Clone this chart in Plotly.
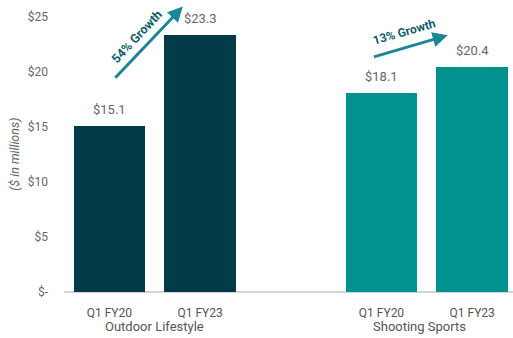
import plotly.graph_objects as go

# Data
segments = ["Outdoor Lifestyle", "Shooting Sports"]
periods = ["Q1 FY20", "Q1 FY23"]
outdoor_values = [15.1, 23.3]
shooting_values = [18.1, 20.4]
growth_labels = ["54% Growth", "13% Growth"]
y_tickvals = [0, 5, 10, 15, 20, 25]
y_ticktext = ["$-", "$5", "$10", "$15", "$20", "$25"]
y_title = "($ in millions)"

FONT = "Roboto, sans-serif"
DARK = "#033c48"
TEAL = "#01928f"
ARROW = "#1a8796"
GROWTH_TXT = "#0d5e6c"

x_out = [0, 1]
x_sho = [3, 4]

fig = go.Figure()
fig.add_trace(go.Bar(x=x_out, y=outdoor_values, marker_color=DARK, width=0.79,
                     marker_line_width=0, showlegend=False))
fig.add_trace(go.Bar(x=x_sho, y=shooting_values, marker_color=TEAL, width=0.79,
                     marker_line_width=0, showlegend=False))

annotations = []
for xs, vals in ((x_out, outdoor_values), (x_sho, shooting_values)):
    for x, v in zip(xs, vals):
        annotations.append(dict(x=x, y=v, text=f"${v:.1f}", showarrow=False,
                                yanchor="bottom", yshift=7,
                                font=dict(family=FONT, size=13, color="#666666")))

# growth arrows (derived from values)
annotations.append(dict(x=0.81, y=outdoor_values[1] + 2.6, ax=0.05, ay=outdoor_values[0] + 4.2,
                        xref="x", yref="y", axref="x", ayref="y", text="", showarrow=True,
                        arrowhead=2, arrowsize=1.0, arrowwidth=3, arrowcolor=ARROW))
annotations.append(dict(x=0.30, y=outdoor_values[1] - 0.1, text=f"<b>{growth_labels[0]}</b>",
                        showarrow=False, textangle=-47,
                        font=dict(family=FONT, size=12.5, color=GROWTH_TXT)))
annotations.append(dict(x=3.73, y=shooting_values[1] + 2.9, ax=2.9, ay=shooting_values[0] + 3.2,
                        xref="x", yref="y", axref="x", ayref="y", text="", showarrow=True,
                        arrowhead=2, arrowsize=1.0, arrowwidth=3, arrowcolor=ARROW))
annotations.append(dict(x=3.25, y=shooting_values[1] + 3.2, text=f"<b>{growth_labels[1]}</b>",
                        showarrow=False, textangle=-16,
                        font=dict(family=FONT, size=12, color=GROWTH_TXT)))

# group labels
for gx, name in ((0.5, segments[0]), (3.42, segments[1])):
    annotations.append(dict(x=gx, y=0, xref="x", yref="paper", yanchor="top", yshift=-25,
                            text=name, showarrow=False,
                            font=dict(family=FONT, size=13, color="#555555")))

# y-axis title
annotations.append(dict(x=-0.109, y=0.47, xref="paper", yref="paper", text=f"<i>{y_title}</i>",
                        xanchor="center", yanchor="middle",
                        showarrow=False, textangle=-90,
                        font=dict(family=FONT, size=12.5, color="#666666")))

fig.update_layout(
    width=513, height=338,
    margin=dict(l=64, r=0, t=0, b=46),
    plot_bgcolor="white", paper_bgcolor="white",
    bargap=0,
    annotations=annotations,
    font=dict(family=FONT),
)
fig.update_xaxes(range=[-0.5, 4.45], tickvals=x_out + x_sho, ticktext=periods + periods,
                 showgrid=False, zeroline=False, showline=False, ticks="",
                 ticklabelstandoff=12,
                 tickfont=dict(family=FONT, size=12, color="#555555"))
fig.update_yaxes(range=[0, 26.5], tickvals=y_tickvals, ticktext=y_ticktext,
                 showgrid=False, zeroline=True, zerolinecolor="#d3d3d3", zerolinewidth=2,
                 showline=False, ticks="", ticklabelstandoff=15,
                 tickfont=dict(family=FONT, size=12, color="#666666"))

fig.write_html("out.html")
